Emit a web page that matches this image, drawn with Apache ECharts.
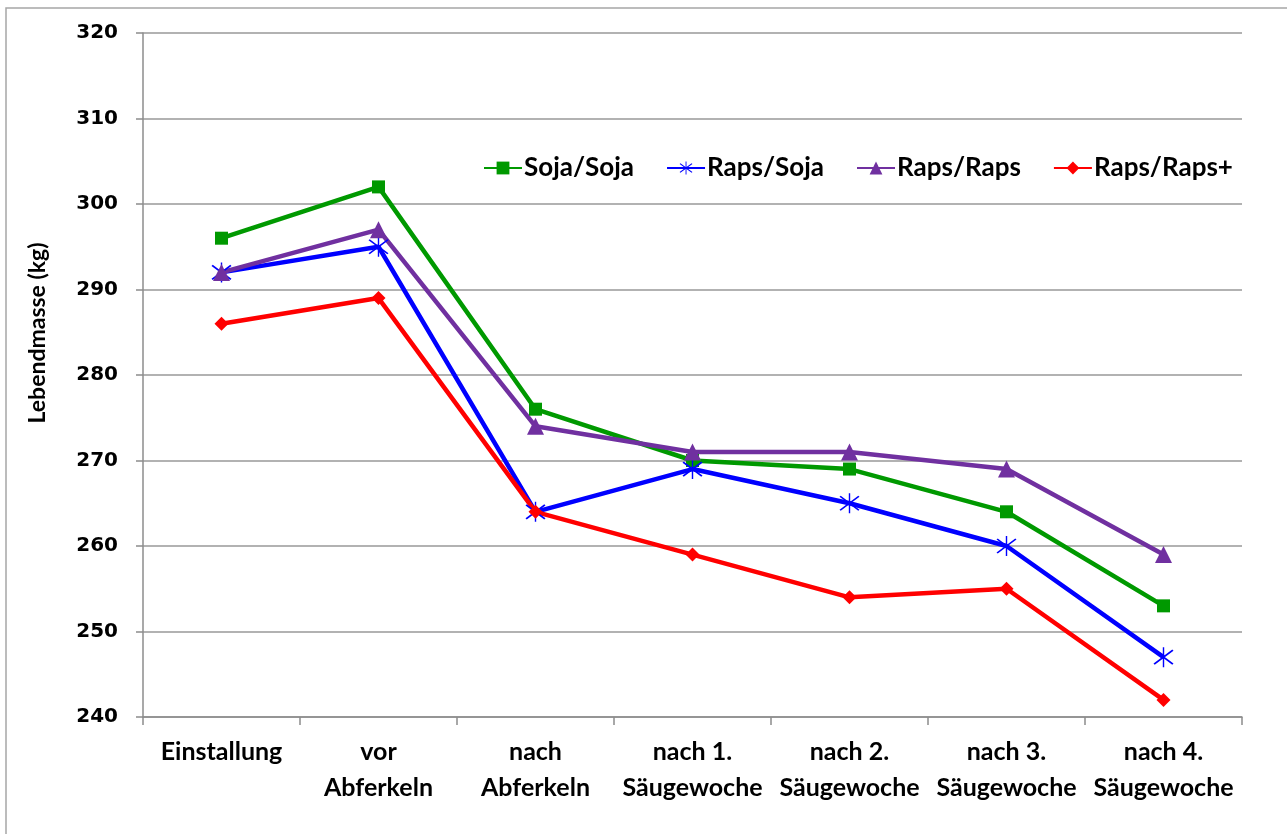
<!DOCTYPE html>
<html>
<head>
<meta charset="utf-8">
<script src="https://cdn.jsdelivr.net/npm/echarts@6/dist/echarts.min.js"></script>
<style>
html,body{margin:0;padding:0;background:#fff;}
#chart{width:1287px;height:834px;}
</style>
</head>
<body>
<div id="chart"></div>
<script>
const categories = ['Einstallung', 'vor\nAbferkeln', 'nach\nAbferkeln', 'nach 1.\nSäugewoche', 'nach 2.\nSäugewoche', 'nach 3.\nSäugewoche', 'nach 4.\nSäugewoche'];
const sojaSoja = [296, 302, 276, 270, 269, 264, 253];
const rapsSoja = [292, 295, 264, 269, 265, 260, 247];
const rapsRaps = [292, 297, 274, 271, 271, 269, 259];
const rapsRapsPlus = [286, 289, 264, 259, 254, 255, 242];
const seriesNames = ['Soja/Soja', 'Raps/Soja', 'Raps/Raps', 'Raps/Raps+'];
const yMin = 240, yMax = 320, yStep = 10;
const yTitle = 'Lebendmasse (kg)';

const asterisk = 'path://M47 0 L53 0 L53 100 L47 100 Z M12.6 12 L92.6 82 L87.4 88 L7.4 18 Z M87.4 12 L92.6 18 L12.6 88 L7.4 82 Z';

const chart = echarts.init(document.getElementById('chart'), null, {renderer: 'canvas'});
const labelFont = 'Lato';

function mk(name, data, color, symbol, size) {
  return {
    name: name, type: 'line', data: data,
    symbol: symbol, symbolSize: size, showSymbol: true,
    lineStyle: {color: color, width: 4.5},
    itemStyle: {color: color, borderWidth: 0},
    emphasis: {disabled: true},
    animation: false
  };
}

chart.setOption({
  backgroundColor: '#fff',
  animation: false,
  grid: {left: 143, right: 45, top: 33, bottom: 117, containLabel: false},
  legend: {
    left: 478, top: 150,
    itemWidth: 38, itemHeight: 16, itemGap: 32,
    textStyle: {fontFamily: labelFont, fontWeight: 'bold', fontSize: 26, color: '#000', padding: [0,0,0,-3]},
    data: seriesNames
  },
  xAxis: {
    type: 'category', data: categories, boundaryGap: true,
    axisLine: {lineStyle: {color: '#8c8c8c', width: 1.5}},
    axisTick: {show: true, length: 8, lineStyle: {color: '#8c8c8c', width: 1.5}},
    axisLabel: {fontFamily: labelFont, fontWeight: 'bold', fontSize: 25, color: '#000', margin: 17, lineHeight: 36, interval: 0}
  },
  yAxis: {
    type: 'value', min: yMin, max: yMax, interval: yStep,
    axisLine: {show: true, lineStyle: {color: '#8c8c8c', width: 1.5}},
    axisTick: {show: true, length: 7, lineStyle: {color: '#8c8c8c', width: 1.5}},
    splitLine: {show: true, lineStyle: {color: '#999', width: 1.5}},
    axisLabel: {fontFamily: 'DejaVu Sans', fontWeight: 'bold', fontSize: 20, color: '#000', margin: 25}
  },
  graphic: [
    {type: 'rect', shape: {x: 6, y: 8, width: 1400, height: 1000}, style: {fill: 'none', stroke: '#a6a6a6', lineWidth: 1.5}, z: -10, silent: true},
    {type: 'text', x: 38, y: 333, rotation: Math.PI / 2,
     style: {text: yTitle, fontFamily: labelFont, fontWeight: 'bold', fontSize: 23, fill: '#000', align: 'center', verticalAlign: 'middle'}}
  ],
  series: [
    mk(seriesNames[0], sojaSoja, '#009900', 'rect', 13),
    mk(seriesNames[1], rapsSoja, '#0000ff', asterisk, 20),
    mk(seriesNames[2], rapsRaps, '#7030a0', 'triangle', 17),
    mk(seriesNames[3], rapsRapsPlus, '#ff0000', 'diamond', 14)
  ]
});
</script>
</body>
</html>
